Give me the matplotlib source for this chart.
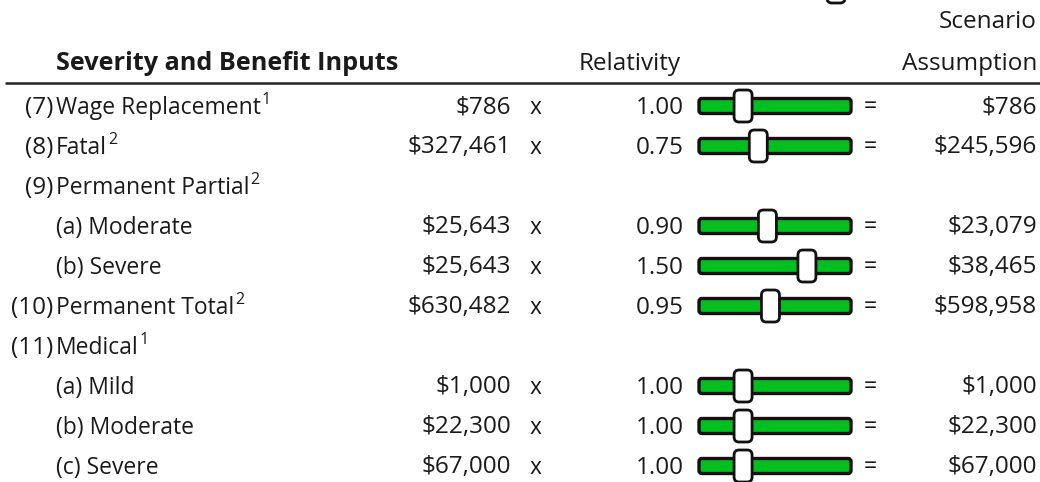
import matplotlib
matplotlib.use("Agg")
import matplotlib.pyplot as plt
from matplotlib.patches import FancyBboxPatch

# ---- data ----
row_numbers = ["(7)", "(8)", "(9)", "", "", "(10)", "(11)", "", "", ""]
row_labels = ["Wage Replacement", "Fatal", "Permanent Partial", "(a) Moderate", "(b) Severe",
              "Permanent Total", "Medical", "(a) Mild", "(b) Moderate", "(c) Severe"]
row_notes = ["1", "2", "2", "", "", "2", "1", "", "", ""]
base_values = ["$786", "$327,461", None, "$25,643", "$25,643", "$630,482", None, "$1,000", "$22,300", "$67,000"]
relativities = [1.00, 0.75, None, 0.90, 1.50, 0.95, None, 1.00, 1.00, 1.00]
slider_pos = [0.29, 0.39, None, 0.45, 0.71, 0.47, None, 0.29, 0.29, 0.29]
results = ["$786", "$245,596", None, "$23,079", "$38,465", "$598,958", None, "$1,000", "$22,300", "$67,000"]
header_title = "Severity and Benefit Inputs"
header_rel = "Relativity"
header_res = ["Scenario", "Assumption"]

W, H = 1040, 482
FONT = "Open Sans"
FS = 16.5      # row labels
FSN = 17.5     # numbers and headers
TXT = "#1a1a1a"
GREEN = "#00c020"
BASE = 7.5  # baseline offset below row centre (px)

fig = plt.figure(figsize=(W / 100, H / 100), dpi=100)
ax = fig.add_axes([0, 0, 1, 1])
ax.set_xlim(0, W)
ax.set_ylim(H, 0)
ax.axis("off")

def txt(x, y, s, ha="left", weight="normal", size=FS):
    return ax.text(x, y + BASE, s, ha=ha, va="baseline", fontsize=size, family=FONT,
                   weight=weight, color=TXT)

# header
txt(56, 62, header_title, weight="bold", size=18.2)
txt(630, 62, header_rel, ha="center", size=FSN)
txt(1037, 20, header_res[0], ha="right", size=FSN)
txt(1037, 62, header_res[1], ha="right", size=FSN)
ax.plot([5, 1040], [83, 83], color="#222222", lw=1.8, solid_capstyle="butt")

fig.canvas.draw()
renderer = fig.canvas.get_renderer()
inv = ax.transData.inverted()

tx0, tx1 = 699, 851

def knob(kx, y):
    ax.add_patch(FancyBboxPatch((kx - 9, y - 16), 18, 32,
                                boxstyle="round,pad=0,rounding_size=5",
                                fc="white", ec="#111111", lw=2.0, zorder=3))

# bottom of a knob from a slider cut off above the header
knob(836, -13)

y0, dy = 106, 40
for i, lab in enumerate(row_labels):
    y = y0 + i * dy
    if row_numbers[i]:
        txt(53, y, row_numbers[i], ha="right", size=FSN)
    t = txt(56, y, lab)
    if row_notes[i]:
        bb = t.get_window_extent(renderer)
        xe = inv.transform((bb.x1, 0))[0]
        ax.text(xe + 1, y - 2, row_notes[i], ha="left", va="baseline", fontsize=11.5,
                family=FONT, color=TXT)
    if base_values[i] is None:
        continue
    txt(511, y, base_values[i], ha="right", size=FSN)
    txt(536, y, "x", ha="center")
    txt(684, y, f"{relativities[i]:.2f}", ha="right", size=FSN)
    ax.add_patch(FancyBboxPatch((tx0, y - 7.5), tx1 - tx0, 15,
                                boxstyle="round,pad=0,rounding_size=3",
                                fc=GREEN, ec="#111111", lw=2.4, zorder=2))
    knob(tx0 + slider_pos[i] * (tx1 - tx0), y)
    txt(870, y, "=", ha="center")
    txt(1037, y, results[i], ha="right", size=FSN)

fig.savefig("out.png", dpi=100)
